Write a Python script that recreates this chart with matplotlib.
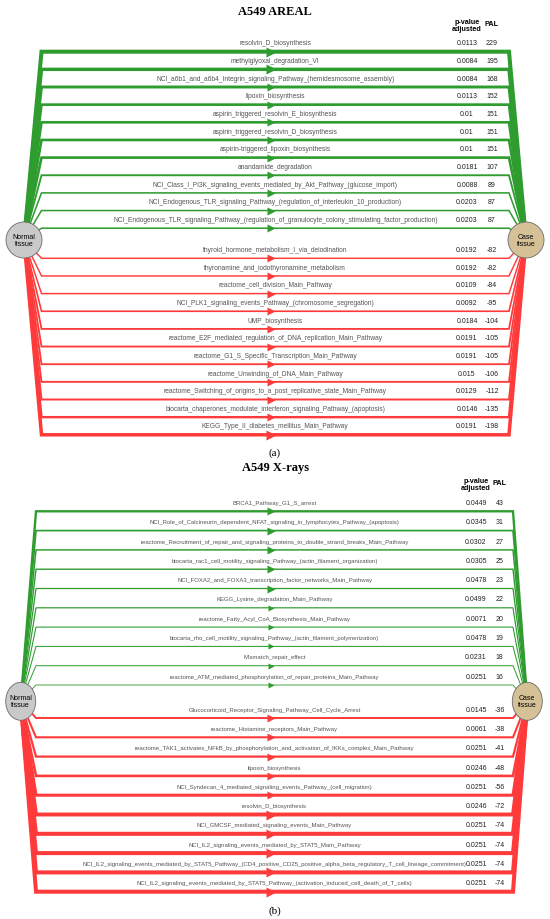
import matplotlib
matplotlib.use("Agg")
import matplotlib.pyplot as plt
from matplotlib.patches import Ellipse

# panel (a) A549 AREAL
a_up_names = [
    "resolvin_D_biosynthesis",
    "methylglyoxal_degradation_VI",
    "NCI_a6b1_and_a6b4_Integrin_signaling_Pathway_(hemidesmosome_assembly)",
    "lipoxin_biosynthesis",
    "aspirin_triggered_resolvin_E_biosynthesis",
    "aspirin_triggered_resolvin_D_biosynthesis",
    "aspirin-triggered_lipoxin_biosynthesis",
    "anandamide_degradation",
    "NCI_Class_I_PI3K_signaling_events_mediated_by_Akt_Pathway_(glucose_import)",
    "NCI_Endogenous_TLR_signaling_Pathway_(regulation_of_interleukin_10_production)",
    "NCI_Endogenous_TLR_signaling_Pathway_(regulation_of_granulocyte_colony_stimulating_factor_production)",
]
a_up_pval = ["0.0113", "0.0084", "0.0084", "0.0113", "0.01", "0.01", "0.01",
             "0.0181", "0.0088", "0.0203", "0.0203"]
a_up_pal = [229, 195, 168, 152, 151, 151, 151, 107, 89, 87, 87]

a_down_names = [
    "thyroid_hormone_metabolism_I_via_deiodination",
    "thyronamine_and_iodothyronamine_metabolism",
    "reactome_cell_division_Main_Pathway",
    "NCI_PLK1_signaling_events_Pathway_(chromosome_segregation)",
    "UMP_biosynthesis",
    "reactome_E2F_mediated_regulation_of_DNA_replication_Main_Pathway",
    "reactome_G1_S_Specific_Transcription_Main_Pathway",
    "reactome_Unwinding_of_DNA_Main_Pathway",
    "reactome_Switching_of_origins_to_a_post_replicative_state_Main_Pathway",
    "biocarta_chaperones_modulate_interferon_signaling_Pathway_(apoptosis)",
    "KEGG_Type_II_diabetes_mellitus_Main_Pathway",
]
a_down_pval = ["0.0192", "0.0192", "0.0109", "0.0092", "0.0184", "0.0191",
               "0.0191", "0.015", "0.0129", "0.0146", "0.0191"]
a_down_pal = [-82, -82, -84, -95, -104, -105, -105, -106, -112, -135, -198]

# panel (b) A549 X-rays
b_up_names = [
    "BRCA1_Pathway_G1_S_arrest",
    "NCI_Role_of_Calcineurin_dependent_NFAT_signaling_in_lymphocytes_Pathway_(apoptosis)",
    "reactome_Recruitment_of_repair_and_signaling_proteins_to_double_strand_breaks_Main_Pathway",
    "biocarta_rac1_cell_motility_signaling_Pathway_(actin_filament_organization)",
    "NCI_FOXA2_and_FOXA3_transcription_factor_networks_Main_Pathway",
    "KEGG_Lysine_degradation_Main_Pathway",
    "reactome_Fatty_Acyl_CoA_Biosynthesis_Main_Pathway",
    "biocarta_rho_cell_motility_signaling_Pathway_(actin_filament_polymerization)",
    "Mismatch_repair_effect",
    "reactome_ATM_mediated_phosphorylation_of_repair_proteins_Main_Pathway",
]
b_up_pval = ["0.0449", "0.0345", "0.0302", "0.0305", "0.0478", "0.0499",
             "0.0071", "0.0478", "0.0231", "0.0251"]
b_up_pal = [43, 31, 27, 25, 23, 22, 20, 19, 18, 16]

b_down_names = [
    "Glucocorticoid_Receptor_Signaling_Pathway_Cell_Cycle_Arrest",
    "reactome_Histamine_receptors_Main_Pathway",
    "reactome_TAK1_activates_NFkB_by_phosphorylation_and_activation_of_IKKs_complex_Main_Pathway",
    "lipoxin_biosynthesis",
    "NCI_Syndecan_4_mediated_signaling_events_Pathway_(cell_migration)",
    "resolvin_D_biosynthesis",
    "NCI_GMCSF_mediated_signaling_events_Main_Pathway",
    "NCI_IL2_signaling_events_mediated_by_STAT5_Main_Pathway",
    "NCI_IL2_signaling_events_mediated_by_STAT5_Pathway_(CD4_positive_CD25_positive_alpha_beta_regulatory_T_cell_lineage_commitment)",
    "NCI_IL2_signaling_events_mediated_by_STAT5_Pathway_(activation_induced_cell_death_of_T_cells)",
]
b_down_pval = ["0.0145", "0.0061", "0.0251", "0.0246", "0.0251", "0.0246",
               "0.0251", "0.0251", "0.0251", "0.0251"]
b_down_pal = [-36, -38, -41, -48, -56, -72, -74, -74, -74, -74]

GREEN = "#2e9c2e"
RED = "#ff3a3a"
LABEL_FONT = "Liberation Sans"
TITLE_FONT = "Liberation Serif"


def draw_panel(ax, title, tag, up, down, lay):
    maxpal = max(abs(v) for v in up[2] + down[2])
    cy = lay["cy"]
    xl, xr = lay["xl"], lay["xr"]
    xmid = (xl + xr) / 2

    rows = []
    for i in range(len(up[0])):
        rows.append((lay["y_up"] + i * lay["step"], up[0][i], up[1][i], up[2][i], GREEN))
    for i in range(len(down[0])):
        rows.append((lay["y_down"] + i * lay["step"], down[0][i], down[1][i], down[2][i], RED))

    for y, name, pv, pal, col in rows:
        frac = abs(pal) / maxpal
        lw = max(0.6, 2.9 * frac)
        ax.plot([lay["cxl"], xl, xr, lay["cxr"]], [cy, y, y, cy], color=col,
                lw=lw, solid_joinstyle="miter", solid_capstyle="butt", zorder=2)
        ax.plot(xmid - 4, y, marker=">", ms=4.2 + 2.8 * frac, color=col,
                mec="none", zorder=3)
        ax.text(xmid, y - 8.8, name, ha="center", va="center", fontsize=lay["fs"],
                color="#555555", family=LABEL_FONT, zorder=4)
        ax.text(lay["xp"], y - 8.8, pv, ha="center", va="center", fontsize=5,
                color="#222222", family=LABEL_FONT)
        ax.text(lay["xpal"], y - 8.8, str(pal), ha="center", va="center",
                fontsize=5, color="#222222", family=LABEL_FONT)

    # header
    ax.text(lay["xp"], lay["hy"], "p-value\nadjusted", ha="center", va="center",
            fontsize=5.2, fontweight="bold", linespacing=0.9, family=LABEL_FONT)
    ax.text(lay["xpal"], lay["hy"] - 1, "PAL", ha="center", va="center",
            fontsize=5.2, fontweight="bold", family=LABEL_FONT)

    # nodes
    for cx, fc, lab in [(lay["cxl"], "#c9c9c9", "Normal\ntissue"),
                        (lay["cxr"], "#d6c197", "Case\ntissue")]:
        ax.add_patch(Ellipse((cx, cy), 2 * lay["rx"], 2 * lay["ry"], fc=fc,
                             ec="#6a6a6a", lw=0.6, zorder=5))
        ax.text(cx, cy, lab, ha="center", va="center", fontsize=5,
                linespacing=0.95, family=LABEL_FONT, zorder=6)

    ax.text(275, lay["ty"], title, ha="center", va="center", fontsize=9,
            fontweight="bold", family=TITLE_FONT)
    ax.text(275, lay["tagy"], tag, ha="center", va="center", fontsize=8,
            family=TITLE_FONT)


fig = plt.figure(figsize=(5.5, 9.2), dpi=100)
ax = fig.add_axes([0, 0, 1, 1])
ax.set_xlim(0, 550)
ax.set_ylim(920, 0)
ax.axis("off")

lay_a = dict(cy=241, cxl=24, cxr=526, rx=18, ry=18, xl=41.5, xr=509,
             y_up=52.7, y_down=259.3, step=17.65, xp=467, xpal=492,
             hy=26, ty=12, tagy=453, fs=4.8)
lay_b = dict(cy=702.3, cxl=20.7, cxr=527.3, rx=15, ry=19, xl=36, xr=513,
             y_up=512.3, y_down=719, step=19.3, xp=476, xpal=499.5,
             hy=485, ty=468, tagy=911, fs=4.3)

draw_panel(ax, "A549 AREAL", "(a)", (a_up_names, a_up_pval, a_up_pal),
           (a_down_names, a_down_pval, a_down_pal), lay_a)
draw_panel(ax, "A549 X-rays", "(b)", (b_up_names, b_up_pval, b_up_pal),
           (b_down_names, b_down_pval, b_down_pal), lay_b)

fig.savefig("out.png", dpi=100)
